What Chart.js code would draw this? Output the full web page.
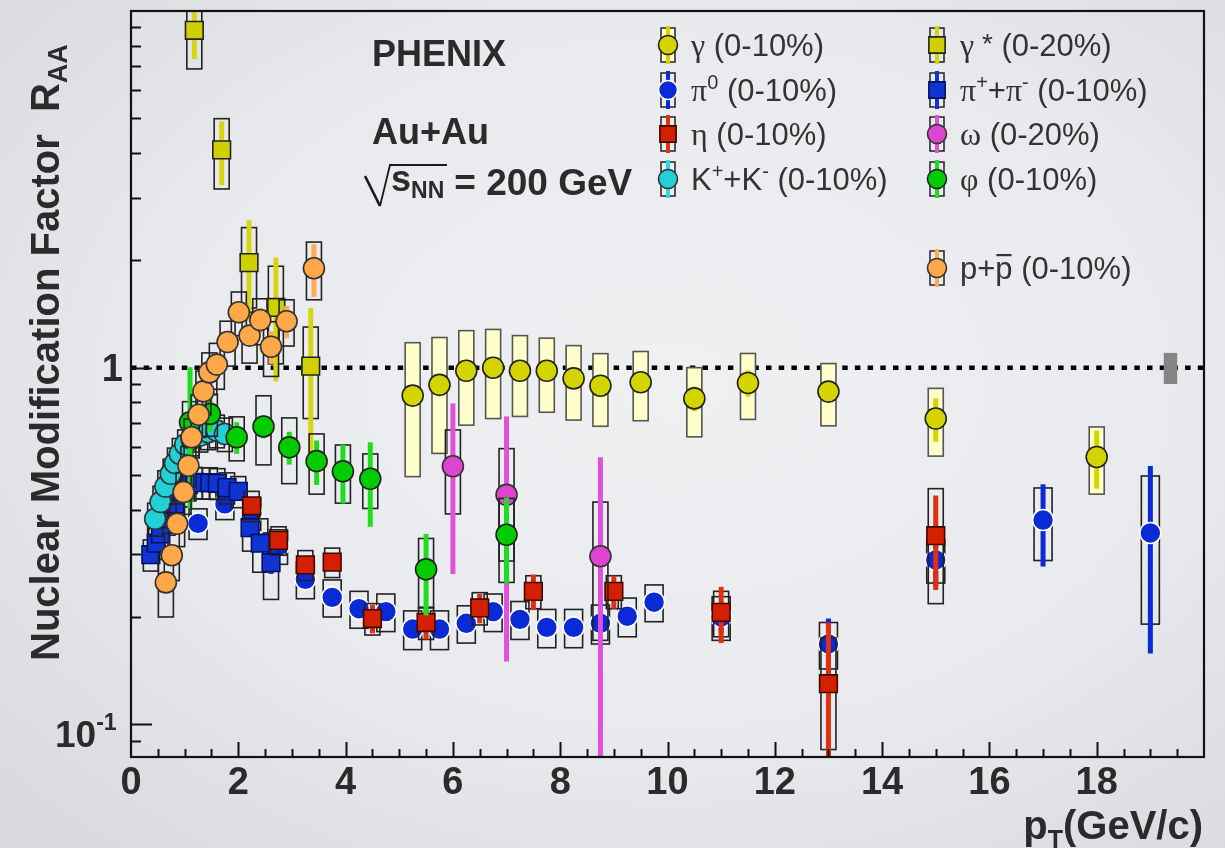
<!DOCTYPE html>
<html><head><meta charset="utf-8">
<script src="https://cdn.jsdelivr.net/npm/chart.js@4.4.0/dist/chart.umd.min.js"></script>
<style>
html,body{margin:0;padding:0;width:1225px;height:848px;overflow:hidden;
background: radial-gradient(ellipse 75% 75% at 55% 45%, #eff0f2 0%, #e9eaed 55%, #d8d9de 100%);}
#wrap{position:relative;width:1225px;height:848px;}
canvas{display:block;}
</style></head><body><div id="wrap"><canvas id="c" width="1225" height="848"></canvas></div>
<script>
// ---------------- data ----------------
// direct photons gamma (0-10%)
const gX    = [5.25,5.75,6.25,6.75,7.25,7.75,8.25,8.75,9.5,10.5,11.5,13.0,15.0,18.0];
const gY    = [0.835,0.895,0.98,1.0,0.98,0.98,0.933,0.89,0.91,0.82,0.906,0.857,0.72,0.562];
const gStat = [0.03,0.03,0.03,0.03,0.03,0.03,0.04,0.05,0.04,0.065,0.077,0.04,0.10,0.104];
const gSys  = [0.34,0.32,0.29,0.28,0.25,0.23,0.22,0.205,0.2,0.18,0.19,0.17,0.155,0.12];
// virtual photons gamma* (0-20%)
const gsX    = [1.18,1.69,2.20,2.70,3.35];
const gsY    = [8.83,4.08,1.97,1.475,1.01];
const gsStat = [1.5,0.83,0.62,0.56,0.46];
const gsSys  = [1.95,0.91,0.5,0.45,0.29];
// pi0 (0-10%)
const p0X    = [1.25,1.75,2.25,2.75,3.25,3.75,4.25,4.75,5.25,5.75,6.25,6.75,7.25,7.75,8.25,8.75,9.25,9.75,11.0,13.0,15.0,17.0,19.0];
const p0Y    = [0.366,0.415,0.39,0.316,0.255,0.227,0.211,0.207,0.185,0.185,0.192,0.207,0.197,0.187,0.187,0.192,0.201,0.220,0.200,0.168,0.289,0.374,0.344];
const p0Stat = [0.004,0.005,0.005,0.005,0.005,0.005,0.005,0.005,0.005,0.005,0.006,0.006,0.007,0.007,0.008,0.009,0.01,0.012,0.02,0.03,0.045,0.097,0.186];
const p0Sys  = [0.036,0.04,0.04,0.035,0.03,0.027,0.025,0.025,0.023,0.023,0.023,0.025,0.024,0.023,0.023,0.024,0.025,0.026,0.028,0.025,0.04,0.086,0.153];
// pi+ + pi- (0-10%)
const ppX    = [0.37,0.47,0.55,0.68,0.82,0.95,1.07,1.19,1.32,1.47,1.61,1.79,2.0,2.22,2.41,2.61];
const ppY    = [0.299,0.322,0.342,0.377,0.415,0.452,0.470,0.477,0.476,0.476,0.474,0.461,0.450,0.356,0.322,0.284];
const ppStat = [0.004,0.004,0.004,0.005,0.005,0.006,0.006,0.006,0.007,0.007,0.008,0.008,0.01,0.012,0.015,0.02];
const ppSys  = [0.03,0.032,0.034,0.038,0.042,0.045,0.047,0.048,0.048,0.048,0.047,0.046,0.045,0.05,0.055,0.06];
// eta (0-10%)
const etX    = [2.25,2.75,3.25,3.75,4.5,5.5,6.5,7.5,9.0,11.0,13.0,15.0];
const etY    = [0.41,0.328,0.280,0.285,0.198,0.193,0.212,0.236,0.236,0.206,0.130,0.338];
const etStat = [0.01,0.015,0.015,0.015,0.018,0.02,0.02,0.027,0.025,0.037,0.063,0.10];
const etSys  = [0.04,0.03,0.027,0.027,0.02,0.02,0.022,0.025,0.025,0.03,0.045,0.12];
// omega (0-20%)
const omX    = [6.0,7.0,8.75];
const omY    = [0.529,0.440,0.296];
const omStat = [0.265,0.29,0.265];
const omSys  = [0.14,0.153,0.124];
// K+ + K- (0-10%)
const kX    = [0.45,0.55,0.64,0.74,0.82,0.91,1.01,1.13,1.29,1.44,1.60,1.75];
const kY    = [0.377,0.420,0.464,0.504,0.540,0.573,0.609,0.631,0.645,0.659,0.666,0.652];
const kStat = [0.005,0.005,0.005,0.006,0.006,0.006,0.007,0.007,0.008,0.008,0.009,0.01];
const kSys  = [0.04,0.045,0.05,0.05,0.055,0.06,0.06,0.065,0.065,0.07,0.07,0.07];
// phi (0-10%)
const phX    = [1.10,1.47,1.97,2.47,2.95,3.46,3.95,4.46,5.5,7.0];
const phY    = [0.703,0.742,0.638,0.684,0.598,0.547,0.512,0.488,0.272,0.340];
const phStat = [0.30,0.08,0.065,0.05,0.063,0.078,0.096,0.13,0.07,0.092];
const phSys  = [0.10,0.10,0.09,0.15,0.125,0.105,0.095,0.085,0.06,0.09];
// p + pbar (0-10%)
const prX    = [0.65,0.76,0.86,0.98,1.07,1.13,1.26,1.35,1.46,1.60,1.80,2.01,2.21,2.41,2.61,2.90,3.41];
const prY    = [0.250,0.298,0.365,0.448,0.531,0.638,0.738,0.858,0.97,1.02,1.18,1.43,1.23,1.36,1.145,1.35,1.90];
const prStat = [0.004,0.005,0.006,0.008,0.01,0.012,0.015,0.02,0.025,0.03,0.04,0.05,0.06,0.11,0.12,0.14,0.32];
const prSys  = [0.05,0.045,0.05,0.06,0.07,0.08,0.1,0.12,0.13,0.15,0.17,0.2,0.2,0.2,0.2,0.2,0.35];

// axis tick labels
const xTickLabels = ['0','2','4','6','8','10','12','14','16','18'];
const xTickValues = [0,2,4,6,8,10,12,14,16,18];
// normalisation uncertainty box
const normBox = {x0:19.25, x1:19.5, lo:0.90, hi:1.10};

// ---------------- styles ----------------
const FONT_SANS = '"Liberation Sans", Arial, Helvetica, sans-serif';
const FONT_SERIF = '"Liberation Serif", "Times New Roman", serif';
const TXT = '#2b2b2b';

function mk(label, X, Y, st, sy, o){
  return Object.assign({
    label, data: X.map((v,i)=>({x:v, y:Y[i]})), stat: st, sys: sy,
    pointStyle: 'circle', pointRadius: 10.5, borderWidth: 1.6, showLine:false,
    boxStroke:'#222', boxW: 15, boxFill: null
  }, o);
}

const datasets = [
  mk('p+pbar', prX, prY, prStat, prSys, {backgroundColor:'#ffa84a', borderColor:'#333', barColor:'#ffaa55', order:0}),
  mk('phi', phX, phY, phStat, phSys, {backgroundColor:'#00cc00', borderColor:'#222', barColor:'#1fdd1f', order:1}),
  mk('K', kX, kY, kStat, kSys, {backgroundColor:'#22d0d8', borderColor:'#333', barColor:'#30d8e0', order:2}),
  mk('omega', omX, omY, omStat, omSys, {backgroundColor:'#dd44d0', borderColor:'#333', barColor:'#e050d8', order:3}),
  mk('eta', etX, etY, etStat, etSys, {backgroundColor:'#d42000', borderColor:'#3a0a00', barColor:'#e03010', pointStyle:'rect', pointRadius:12.5, order:4}),
  mk('pipm', ppX, ppY, ppStat, ppSys, {backgroundColor:'#1034d4', borderColor:'#001060', barColor:'#1034d4', pointStyle:'rect', pointRadius:12.5, order:5}),
  mk('pi0', p0X, p0Y, p0Stat, p0Sys, {backgroundColor:'#0a2ad6', borderColor:'#ffffff', barColor:'#0a2ad6', boxW:18, order:6}),
  mk('gammastar', gsX, gsY, gsStat, gsSys, {backgroundColor:'#d0d000', borderColor:'#222', barColor:'#d6d610', pointStyle:'rect', pointRadius:12.5, order:7}),
  mk('gamma', gX, gY, gStat, gSys, {backgroundColor:'#d4d400', borderColor:'#222', barColor:'#d4d400', boxFill:'#ffffcc', boxStroke:'#555', order:8})
];
const byLabel = {}; datasets.forEach(d=>byLabel[d.label]=d);

// ---------------- helpers ----------------
function drawRich(ctx, x, y, parts){
  let cx = x;
  for (const p of parts){
    ctx.font = p.f;
    const dy = p.dy || 0;
    ctx.fillText(p.t, cx, y + dy);
    const w = ctx.measureText(p.t).width;
    if (p.ov !== undefined){ ctx.fillRect(cx + 1, y + dy + p.ov, w - 2, 2.2); }
    cx += w + (p.sp || 0);
  }
  return cx - x;
}
function richWidth(ctx, parts){
  let w = 0;
  for (const p of parts){ ctx.font = p.f; w += ctx.measureText(p.t).width + (p.sp||0); }
  return w;
}
function drawMarker(ctx, ds, x, y, r){
  ctx.beginPath();
  if (ds.pointStyle === 'rect'){ const s = r*Math.SQRT1_2; ctx.rect(x-s, y-s, 2*s, 2*s); }
  else ctx.arc(x, y, r, 0, Math.PI*2);
  ctx.fillStyle = ds.backgroundColor; ctx.fill();
  ctx.lineWidth = ds.borderWidth; ctx.strokeStyle = ds.borderColor; ctx.stroke();
}

// ---------------- plugins ----------------
const errPlugin = {
  id:'errbars',
  beforeDatasetDraw(chart, args){
    const ds = chart.data.datasets[args.index];
    const {ctx, chartArea:a} = chart;
    const xs = chart.scales.x, ys = chart.scales.y;
    const pix = v => v > 0 ? ys.getPixelForValue(v) : a.bottom + 20;
    ctx.save();
    ctx.beginPath(); ctx.rect(a.left, a.top, a.right-a.left, a.bottom-a.top); ctx.clip();
    ds.data.forEach((p,i)=>{
      const px = xs.getPixelForValue(p.x);
      const t = pix(p.y + ds.sys[i]), b = pix(p.y - ds.sys[i]);
      const hw = ds.boxW/2;
      if (ds.boxFill){ ctx.fillStyle = ds.boxFill; ctx.fillRect(px-hw, t, 2*hw, b-t); }
      ctx.lineWidth = 1.6; ctx.strokeStyle = ds.boxStroke;
      ctx.strokeRect(px-hw, t, 2*hw, b-t);
    });
    ds.data.forEach((p,i)=>{
      const px = xs.getPixelForValue(p.x);
      const t = pix(p.y + ds.stat[i]), b = pix(p.y - ds.stat[i]);
      ctx.fillStyle = ds.barColor;
      ctx.fillRect(px-2.5, t, 5, b-t);
    });
    ctx.restore();
  }
};

const framePlugin = {
  id:'frame',
  beforeDatasetsDraw(chart){
    const {ctx, chartArea:a} = chart;
    const xs = chart.scales.x, ys = chart.scales.y;
    ctx.save();
    const y1 = ys.getPixelForValue(1);
    ctx.strokeStyle = '#000'; ctx.lineWidth = 4.5; ctx.setLineDash([5.5,7.2]);
    ctx.beginPath(); ctx.moveTo(a.left, y1); ctx.lineTo(a.right, y1); ctx.stroke();
    ctx.setLineDash([]);
    const bx0 = xs.getPixelForValue(normBox.x0), bx1 = xs.getPixelForValue(normBox.x1);
    const by0 = ys.getPixelForValue(normBox.hi), by1 = ys.getPixelForValue(normBox.lo);
    ctx.fillStyle = '#858585'; ctx.fillRect(bx0, by0, bx1-bx0, by1-by0);
    ctx.restore();
  },
  afterDatasetsDraw(chart){
    const {ctx, chartArea:a} = chart;
    const xs = chart.scales.x, ys = chart.scales.y;
    ctx.save();
    ctx.strokeStyle = '#111'; ctx.lineWidth = 2;
    const minors = [0.09,0.2,0.3,0.4,0.5,0.6,0.7,0.8,0.9,2,3,4,5,6,7,8,9];
    const majors = [0.1,1];
    ctx.beginPath();
    minors.forEach(v=>{ const y = Math.round(ys.getPixelForValue(v))+0.5; ctx.moveTo(a.left, y); ctx.lineTo(a.left+10, y); });
    majors.forEach(v=>{ const y = Math.round(ys.getPixelForValue(v))+0.5; ctx.moveTo(a.left, y); ctx.lineTo(a.left+21, y); });
    for (let k=1; k<40; k++){
      const v = k*0.5, x = Math.round(xs.getPixelForValue(v))+0.5;
      const len = (k % 4 === 0) ? 15 : 8;
      ctx.moveTo(x, a.bottom); ctx.lineTo(x, a.bottom-len);
    }
    ctx.stroke();
    ctx.lineWidth = 2.2;
    ctx.strokeRect(a.left, a.top, a.right-a.left, a.bottom-a.top);

    // tick labels
    ctx.fillStyle = TXT;
    ctx.font = 'bold 38px ' + FONT_SANS;
    ctx.textAlign = 'center'; ctx.textBaseline = 'alphabetic';
    xTickValues.forEach((v,i)=>{ ctx.fillText(xTickLabels[i], xs.getPixelForValue(v), 794); });
    ctx.textAlign = 'right';
    ctx.fillText('1', 123, ys.getPixelForValue(1) + 13);
    ctx.textAlign = 'left';
    const y01 = ys.getPixelForValue(0.1);
    drawRich(ctx, 55, y01 + 23, [
      {t:'10', f:'bold 37px '+FONT_SANS},
      {t:'-1', f:'bold 23px '+FONT_SANS, dy:-17}
    ]);

    // y-axis title
    ctx.save();
    ctx.translate(59, 661); ctx.rotate(-Math.PI/2);
    drawRich(ctx, 0, 0, [
      {t:'Nuclear Modification Factor  R', f:'bold 40px '+FONT_SANS},
      {t:'AA', f:'bold 27px '+FONT_SANS, dy:8}
    ]);
    ctx.restore();

    // x-axis title, right aligned
    const xt = [
      {t:'p', f:'bold 40px '+FONT_SANS},
      {t:'T', f:'bold 25px '+FONT_SANS, dy:9},
      {t:'(GeV/c)', f:'bold 40px '+FONT_SANS}
    ];
    drawRich(ctx, 1203 - richWidth(ctx, xt), 839, xt);

    // experiment labels
    ctx.font = 'bold 36px ' + FONT_SANS;
    ctx.fillText('PHENIX', 372, 66);
    ctx.fillText('Au+Au', 372, 144);
    drawRich(ctx, 391, 191, [
      {t:'s', f:'bold 36px '+FONT_SANS},
      {t:'NN', f:'bold 23px '+FONT_SANS, dy:7, sp:10},
      {t:'= 200 GeV', f:'bold 37px '+FONT_SANS, dy:4}
    ]);
    ctx.strokeStyle = '#1a1a1a';
    ctx.lineWidth = 2.6; ctx.beginPath(); ctx.moveTo(365,176); ctx.lineTo(380,206); ctx.stroke();
    ctx.lineWidth = 1.8; ctx.beginPath(); ctx.moveTo(380,206); ctx.lineTo(390,165); ctx.lineTo(447,165); ctx.stroke();

    // legend
    const sans = '31px '+FONT_SANS, serif = '32px '+FONT_SERIF, sup = '20px '+FONT_SANS;
    const c1 = 668, c2 = 937, r = [45, 90, 134, 179, 268];
    const entries = [
      {ds:'gamma', x:c1, y:r[0], parts:[{t:'γ',f:serif},{t:' (0-10%)',f:sans}]},
      {ds:'pi0', x:c1, y:r[1], parts:[{t:'π',f:serif},{t:'0',f:sup,dy:-12},{t:' (0-10%)',f:sans}]},
      {ds:'eta', x:c1, y:r[2], parts:[{t:'η',f:serif},{t:' (0-10%)',f:sans}]},
      {ds:'K', x:c1, y:r[3], parts:[{t:'K',f:sans},{t:'+',f:sup,dy:-12},{t:'+K',f:sans},{t:'-',f:sup,dy:-12},{t:' (0-10%)',f:sans}]},
      {ds:'gammastar', x:c2, y:r[0], parts:[{t:'γ',f:serif},{t:' *',f:'28px '+FONT_SANS,dy:-3},{t:' (0-20%)',f:sans}]},
      {ds:'pipm', x:c2, y:r[1], parts:[{t:'π',f:serif},{t:'+',f:sup,dy:-12},{t:'+',f:sans},{t:'π',f:serif},{t:'-',f:sup,dy:-12},{t:' (0-10%)',f:sans}]},
      {ds:'omega', x:c2, y:r[2], parts:[{t:'ω',f:serif},{t:' (0-20%)',f:sans}]},
      {ds:'phi', x:c2, y:r[3], parts:[{t:'φ',f:serif},{t:' (0-10%)',f:sans}]},
      {ds:'p+pbar', x:c2, y:r[4], parts:[{t:'p+',f:sans},{t:'p',f:sans,ov:-25},{t:' (0-10%)',f:sans}]}
    ];
    entries.forEach(e=>{
      const ds = byLabel[e.ds];
      ctx.lineWidth = 1.5; ctx.strokeStyle = '#222';
      if (ds.boxFill){ ctx.fillStyle = ds.boxFill; ctx.fillRect(e.x-7, e.y-17, 14, 34); }
      ctx.strokeRect(e.x-7, e.y-17, 14, 34);
      ctx.fillStyle = ds.barColor; ctx.fillRect(e.x-2, e.y-19, 4, 38);
      drawMarker(ctx, ds, e.x, e.y, ds.pointStyle==='rect' ? 11.5 : 9.5);
      ctx.fillStyle = '#333';
      drawRich(ctx, e.x + 23, e.y + 11, e.parts);
    });
    ctx.restore();
  }
};

new Chart(document.getElementById('c'), {
  type: 'scatter',
  data: { datasets },
  options: {
    responsive: false, animation: false, devicePixelRatio: 1, events: [],
    layout: { autoPadding: false, padding: { left: 131, right: 21, top: 11, bottom: 91 } },
    scales: {
      x: { type: 'linear', min: 0, max: 20, display: false },
      y: { type: 'logarithmic', min: 0.081, max: 10, display: false }
    },
    plugins: { legend: { display: false }, tooltip: { enabled: false } }
  },
  plugins: [errPlugin, framePlugin]
});
</script></body></html>
